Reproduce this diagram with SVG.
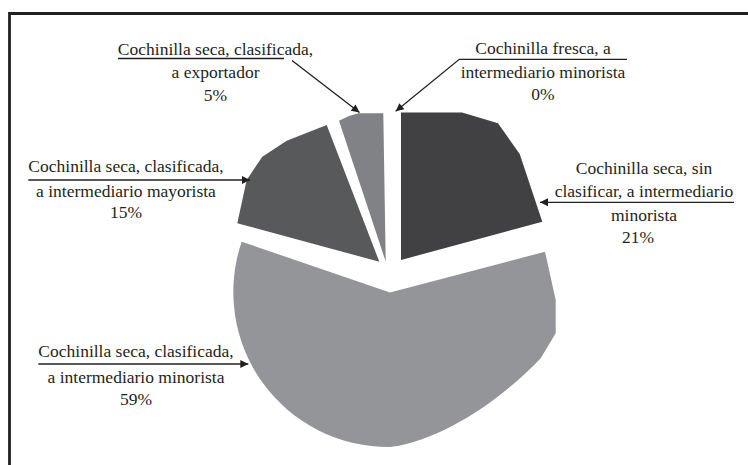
<svg xmlns="http://www.w3.org/2000/svg" width="748" height="465" viewBox="0 0 748 465">
<style>
.lbl{font-family:"Liberation Serif","Times New Roman",serif;font-size:17.5px;fill:#231f20;text-anchor:middle}
.ldr{fill:none;stroke:#231f20;stroke-width:1.3}
.frame{fill:none;stroke:#231f20;stroke-width:2.8}
</style>
<defs>
<marker id="arr" viewBox="0 0 10 10" refX="10" refY="5" markerWidth="11" markerHeight="8" markerUnits="userSpaceOnUse" orient="auto">
<path d="M0,0 L10,5 L0,10 z" fill="#231f20"/>
</marker>
</defs>
<rect width="748" height="465" fill="#ffffff"/>
<path class="frame" d="M9.5,465 V13.5 H748"/>
<g id="slice-sin-clasificar">
<path d="M401,112.5 L462,112.5 L498,123.3 L519.7,154 L542.3,221.7 L401,260 Z" fill="#414042"/>
</g>
<g id="slice-exportador">
<path d="M339,120.7 L349,116 L358.3,113.3 L383.3,113.3 L385.7,261.5 Z" fill="#808285"/>
</g>
<g id="slice-fresca"></g>
<g id="slice-mayorista">
<path d="M326.7,125 L286.7,140.7 L262.3,156.7 L246.7,180 L237.3,223.3 L379.3,261.7 Z" fill="#58595b"/>
</g>
<g id="slice-minorista">
<path d="M241.7,241.7 L390,292.5 L545,251.7 L555.7,300 L555.7,333.3 L540.7,358.3 C505.7,395.3 445,440 390,447 A155,155 0 0 1 241.7,241.7 Z" fill="#939598"/>
</g>
<g id="connectors">
<path class="ldr" d="M118,58.5 H284 M292,60.5 L359.5,112.5" marker-end="url(#arr)"/>
<path class="ldr" d="M627,59.3 H459.3 L395.7,111.3" marker-end="url(#arr)"/>
<path class="ldr" d="M734,202.3 H540" marker-end="url(#arr)"/>
<path class="ldr" d="M28.3,180 H250" marker-end="url(#arr)"/>
<path class="ldr" d="M38.3,364 H248.3" marker-end="url(#arr)"/>
</g>
<g id="label-exportador">
<text class="lbl" x="215.5" y="55">Cochinilla seca, clasificada,</text>
<text class="lbl" x="215.5" y="78">a exportador</text>
<text class="lbl" x="215.5" y="100.5">5%</text>
</g>
<g id="label-fresca">
<text class="lbl" x="543" y="54">Cochinilla fresca, a</text>
<text class="lbl" x="543" y="77.5">intermediario minorista</text>
<text class="lbl" x="543" y="100">0%</text>
</g>
<g id="label-sin-clasificar">
<text class="lbl" x="644" y="173.5">Cochinilla seca, sin</text>
<text class="lbl" x="644" y="196.7">clasificar, a intermediario</text>
<text class="lbl" x="644" y="221">minorista</text>
<text class="lbl" x="638" y="242.5">21%</text>
</g>
<g id="label-mayorista">
<text class="lbl" x="126" y="171.7">Cochinilla seca, clasificada,</text>
<text class="lbl" x="126" y="196.7">a intermediario mayorista</text>
<text class="lbl" x="126" y="218.3">15%</text>
</g>
<g id="label-minorista">
<text class="lbl" x="136" y="357.3">Cochinilla seca, clasificada,</text>
<text class="lbl" x="136" y="383.3">a intermediario minorista</text>
<text class="lbl" x="136" y="405">59%</text>
</g>
</svg>
